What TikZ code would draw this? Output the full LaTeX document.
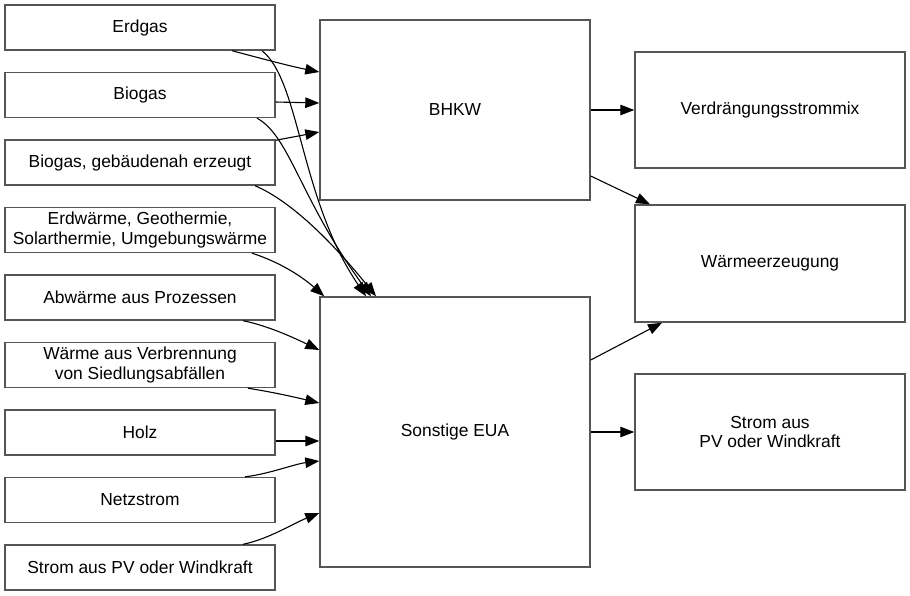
\documentclass[tikz,border=0pt]{standalone}
\usepackage{fontspec}
\setmainfont{Liberation Sans}
\usetikzlibrary{arrows.meta}
\definecolor{boxgray}{RGB}{85,85,85}
\begin{document}
\begin{tikzpicture}[x=1pt,y=-1pt,
  box/.style={draw=boxgray,line width=1.4pt,fill=white,minimum width=270pt,inner sep=2pt,align=center,font=\fontsize{17.4}{19.5}\selectfont},
  lbox/.style={box,minimum height=45pt},
  conn/.style={line width=1.1pt,black,-{Triangle[length=14pt,width=10.5pt]}}]
\useasboundingbox (0,0) rectangle (910,595);
% left inputs
\node[lbox] (erd)  at (140,27.5) {Erdgas};
\node[lbox] (bio)  at (140,95) {Biogas};
\node[lbox] (bgeb) at (140,162.5) {Biogas, gebäudenah erzeugt};
\node[lbox] (erdw) at (140,230) {Erdwärme, Geothermie,\\Solarthermie, Umgebungswärme};
\node[lbox] (abw)  at (140,297.5) {Abwärme aus Prozessen};
\node[lbox] (wvb)  at (140,365) {Wärme aus Verbrennung\\von Siedlungsabfällen};
\node[lbox] (holz) at (140,432.5) {Holz};
\node[lbox] (netz) at (140,500) {Netzstrom};
\node[lbox] (pv)   at (140,567.5) {Strom aus PV oder Windkraft};
% middle
\node[box,minimum height=180pt] (bhkw) at (455,110) {BHKW};
\node[box,minimum height=270pt] (sons) at (455,432) {Sonstige EUA};
% right
\node[box,minimum height=116pt] (verd) at (770,110) {Verdrängungsstrommix};
\node[box,minimum height=117pt] (wae)  at (770,263.5) {Wärmeerzeugung};
\node[box,minimum height=116pt] (spv)  at (770,432) {Strom aus\\PV oder Windkraft};
% connectors to BHKW
\draw[conn] ([xshift=92pt]erd.south) .. controls +(30,8) and +(-30,-6) .. ([yshift=38pt]bhkw.west);
\draw[conn] ([yshift=-7pt]bio.east) -- ([yshift=7pt]bhkw.west);
\draw[conn] ([yshift=-1pt]bgeb.north east) -- ([yshift=-22pt]bhkw.west);
% connectors to Sonstige EUA
\draw[conn] ([xshift=122pt]erd.south) .. controls +(38,30) and +(-66,-97) .. ([xshift=-89pt]sons.north);
\draw[conn] ([xshift=117pt]bio.south) .. controls +(33,18) and +(-71,-97) .. ([xshift=-84pt]sons.north);
\draw[conn] ([xshift=115pt]bgeb.south) .. controls +(35,15) and +(-46,-57) .. ([xshift=-79pt]sons.north);
\draw[conn] ([xshift=112pt]erdw.south) .. controls +(25,8) and +(-25,-22) .. ([xshift=5pt]sons.north west);
\draw[conn] ([xshift=103pt]abw.south) .. controls +(25,5) and +(-25,-12) .. ([yshift=82pt]sons.west);
\draw[conn] ([xshift=108pt]wvb.south) .. controls +(25,4) and +(-25,-6) .. ([yshift=29pt]sons.west);
\draw[conn] ([yshift=-8.5pt]holz.east) -- ([yshift=-9pt]sons.west);
\draw[conn] ([xshift=105pt]netz.north) .. controls +(25,-3) and +(-25,3) .. ([yshift=-29pt]sons.west);
\draw[conn] ([xshift=103pt]pv.north) .. controls +(25,-5) and +(-25,10) .. ([yshift=-81pt]sons.west);
% outputs
\draw[conn] (bhkw.east) -- (verd.west);
\draw[conn] ([yshift=-66pt]bhkw.east) -- ([xshift=-120pt]wae.north);
\draw[conn] ([yshift=72pt]sons.east) -- ([xshift=-108pt]wae.south);
\draw[conn] (sons.east) -- (spv.west);
\end{tikzpicture}
\end{document}
